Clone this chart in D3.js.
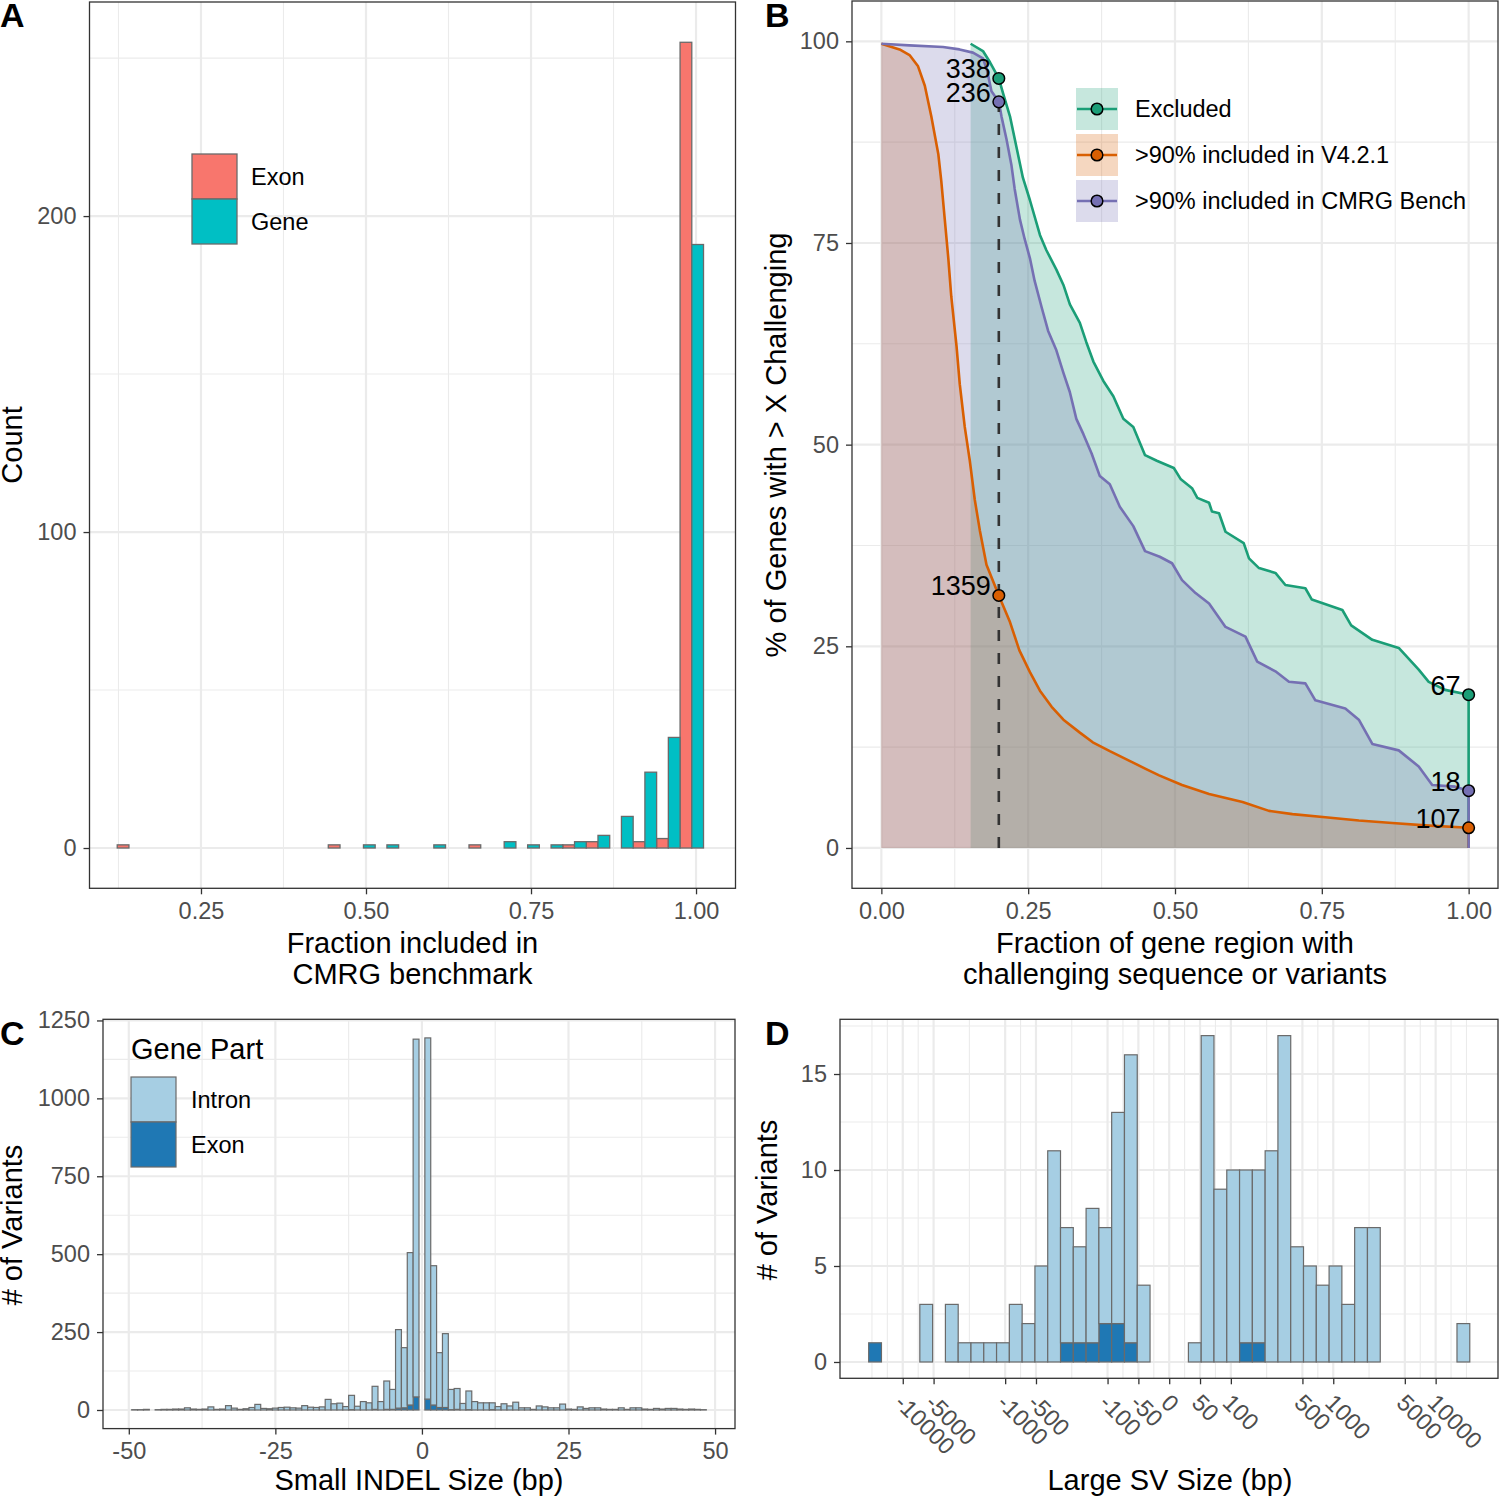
<!DOCTYPE html>
<html><head><meta charset="utf-8">
<script src="https://cdn.jsdelivr.net/npm/d3@7"></script>
<style>
body{margin:0;background:#fff}
svg{display:block}
text{font-family:"Liberation Sans",Arial,Helvetica,sans-serif}
</style>
</head><body>
<svg id="c" width="1500" height="1499"></svg>
<script>
// ---------------- Panel A data ----------------
const aBinStart = 0.1231, aBinWidth = 0.03553;
const aExon = [1,0,0,0,0,0,0,0,0,1,0,0,0,0,0,1,0,0,0,1,2,0,2,3,255];
const aGene = [0,0,0,0,0,0,0,0,0,0,1,1,0,1,0,0,2,1,1,2,4,10,24,35,191];
const aXTicks = [0.25,0.5,0.75,1.0];
const aXLabels = ["0.25","0.50","0.75","1.00"];
const aXMinor = [0.125,0.375,0.625,0.875];
const aYTicks = [0,100,200];
const aYMinor = [50,150,250];
const aLegend = ["Exon","Gene"];
const aColors = ["#F8766D","#00BFC4"];

// ---------------- Panel B data ----------------
const bNames = ["Excluded", ">90% included in V4.2.1", ">90% included in CMRG Bench"];
const bColors = ["#1b9e77","#d95f02","#7570b3"];
const bExcluded = [[0.152,99.7],[0.173,98.8],[0.185,97.4],[0.2,95.4],[0.207,93.6],[0.219,90.7],[0.23,86.9],[0.241,83.1],[0.253,80.3],[0.27,76],[0.281,74.1],[0.298,71.7],[0.31,69.8],[0.321,67.4],[0.338,65.1],[0.349,62.7],[0.361,60.3],[0.378,57.9],[0.395,56],[0.412,53.2],[0.429,52.2],[0.449,48.7],[0.469,48.0],[0.498,47.1],[0.51,45.7],[0.529,44.6],[0.538,43.4],[0.558,42.8],[0.563,41.7],[0.575,41.5],[0.586,39.2],[0.617,37.8],[0.626,35.9],[0.643,34.7],[0.671,34.1],[0.688,32.6],[0.722,32.2],[0.733,30.8],[0.785,29.5],[0.8,27.6],[0.836,25.8],[0.881,24.8],[0.915,22.1],[0.932,20.6],[0.96,19.6],[1.0,19.0],[1.0,0]];
const bV421 = [[0,99.7],[0.031,99],[0.048,98.3],[0.0625,96.9],[0.074,94.5],[0.085,90.7],[0.097,86],[0.102,82.7],[0.108,77.9],[0.114,73.1],[0.119,68.4],[0.128,62.2],[0.1335,57.5],[0.142,52.2],[0.1506,48],[0.159,43.2],[0.1676,39.4],[0.179,35.1],[0.2,31.3],[0.219,28],[0.235,24.5],[0.253,21.8],[0.27,19.5],[0.29,17.5],[0.31,15.9],[0.338,14.3],[0.36,13.1],[0.389,12.0],[0.42,10.9],[0.45,9.8],[0.473,9.0],[0.512,7.8],[0.558,6.7],[0.615,5.7],[0.66,4.6],[0.7,4.2],[0.756,3.8],[0.813,3.4],[0.87,3.1],[0.926,2.8],[1.0,2.5],[1.0,0]];
const bCMRG = [[0,99.7],[0.048,99.5],[0.105,99.3],[0.133,99.0],[0.156,98.6],[0.173,97.9],[0.18,96.4],[0.1875,93.8],[0.2,92.5],[0.2045,90.7],[0.213,87.9],[0.2216,84.6],[0.227,81.7],[0.236,77.9],[0.244,75.5],[0.253,73.1],[0.261,70.3],[0.273,67],[0.284,64.1],[0.298,61.7],[0.31,58.9],[0.321,56.5],[0.332,53.2],[0.344,51.3],[0.358,48.9],[0.372,46.1],[0.389,45.1],[0.406,42.3],[0.429,39.9],[0.449,36.8],[0.474,36.1],[0.495,35.3],[0.512,33.2],[0.535,31.6],[0.558,30.3],[0.586,27.4],[0.62,26.2],[0.64,23.1],[0.671,21.9],[0.694,20.6],[0.722,20.4],[0.739,18.3],[0.79,17.3],[0.813,15.9],[0.836,12.9],[0.881,12.1],[0.915,10.1],[0.938,7.8],[0.977,7.6],[1.0,7.1],[1.0,0]];
const bMarkX = [0.2,0.2,0.2,1.0,1.0,1.0];
const bMarkY = [95.4,92.5,31.3,19.0,7.1,2.5];
const bMarkSeries = [0,2,1,0,2,1];
const bMarkLabels = ["338","236","1359","67","18","107"];
const bCutoff = 0.2;
const bXTicks = [0,0.25,0.5,0.75,1.0];
const bXLabels = ["0.00","0.25","0.50","0.75","1.00"];
const bXMinor = [0.125,0.375,0.625,0.875];
const bYTicks = [0,25,50,75,100];
const bYMinor = [12.5,37.5,62.5,87.5];

// ---------------- Panel C data ----------------
const cSizes = [-49,-48,-47,-45,-44,-43,-42,-41,-40,-39,-38,-37,-36,-35,-34,-33,-32,-31,-30,-29,-28,-27,-26,-25,-24,-23,-22,-21,-20,-19,-18,-17,-16,-15,-14,-13,-12,-11,-10,-9,-8,-7,-6,-5,-4,-3,-2,-1,
  1,2,3,4,5,6,7,8,9,10,11,12,13,14,15,16,17,18,19,20,21,22,23,24,25,26,27,28,29,30,31,32,33,34,35,36,37,38,39,40,41,42,43,44,45,46,47,48];
const cIntron = [1,1,2, 1,2,2,3,3,7, 3,2,3,10,2,3,14,6,2,4, 8,18,5,4,6,8,9,7,6,14, 9,8,10,34,20,22,11,46,12,27, 23,74,27,91,64,252,193,489,1148,
  1159,447,176,237,65,67,21,60,27,23, 23,22,11,20,13,25,7,7,2,13, 10,7,7,19,3,2,10,5,7,7, 3,2,2,7,2,7,7,3,2,5, 3,5,5,3,2,3,2,1];
const cExon = [0,0,0, 0,0,0,0,0,0, 0,0,0,0,0,0,0,0,0,0, 0,0,0,0,0,0,0,0,0,0, 0,0,0,0,0,0,0,1,0,0, 0,2,0,2,2,6,7,16,42,
  35,16,8,8,1,2,0,1,0,0, 0,1,0,0,0,0,0,0,0,0, 0,0,0,0,0,0,0,0,0,0, 0,0,0,0,0,0,0,0,0,0, 0,0,0,0,0,0,0,0];
const cXTicks = [-50,-25,0,25,50];
const cXMinor = [-37.5,-12.5,12.5,37.5];
const cYTicks = [0,250,500,750,1000,1250];
const cYMinor = [125,375,625,875,1125];
const partNames = ["Intron","Exon"];
const partColors = ["#a6cee3","#1f78b4"];

// ---------------- Panel D data ----------------
const dBinStart = -2.935, dBinWidth = 0.1249; // in signed log10(|bp|/25) units
const dIntron = [0,0,0,0,3,0,3,1,1,1, 1,3,2,5,11,6,5,7,5,11, 15,4,0,0,0,1,17,9,10,9, 9,11,17,6,5,4,5,3,7,7, 0,0,0,0,0,0,2];
const dExon   = [1,0,0,0,0,0,0,0,0,0, 0,0,0,0,0,1,1,1,2,2, 1,0,0,0,0,0,0,0,0,1, 1,0,0,0,0,0,0,0,0,0, 0,0,0,0,0,0,0];
const dXTicks = [-10000,-5000,-1000,-500,-100,-50,0,50,100,500,1000,5000,10000];
const dYTicks = [0,5,10,15];
const dYMinor = [2.5,7.5,12.5,17.5];

// ---------------- helpers ----------------
const svg = d3.select("#c");
const GRID = "#ebebeb", BORDER = "#333333", TICKTXT = "#4d4d4d", BAROUT = "#6a6a6a";
const TICKFS = "23.5px", TITLEFS = "29px";

function frame(xs, ys, o) {
  const g = svg.append("g");
  const [L,R] = xs.range(), [B,T] = ys.range();
  g.append("rect").attr("x",L).attr("y",T).attr("width",R-L).attr("height",B-T).attr("fill","#fff");
  const vl = (vals, w) => g.selectAll(null).data(vals).join("line")
      .attr("x1",d=>xs(d)).attr("x2",d=>xs(d)).attr("y1",T).attr("y2",B)
      .attr("stroke",GRID).attr("stroke-width",w);
  const hl = (vals, w) => g.selectAll(null).data(vals).join("line")
      .attr("y1",d=>ys(d)).attr("y2",d=>ys(d)).attr("x1",L).attr("x2",R)
      .attr("stroke",GRID).attr("stroke-width",w);
  vl(o.xMinor||[],1.1); hl(o.yMinor||[],1.1);
  vl(o.xMajor,2.2); hl(o.yMajor,2.2);
  return g;
}
function border(xs, ys) {
  const [L,R] = xs.range(), [B,T] = ys.range();
  svg.append("rect").attr("x",L).attr("y",T).attr("width",R-L).attr("height",B-T)
    .attr("fill","none").attr("stroke",BORDER).attr("stroke-width",1.3);
}
function styleAxis(ax) {
  ax.select(".domain").remove();
  ax.selectAll(".tick line").attr("stroke",BORDER).attr("stroke-width",1.3);
  ax.selectAll(".tick text").attr("fill",TICKTXT).style("font-size",TICKFS)
    .style("font-family",'"Liberation Sans",Arial,sans-serif');
}
function yAxis(xs, ys, ticks, fmt) {
  const ax = svg.append("g").attr("transform",`translate(${xs.range()[0]},0)`)
    .call(d3.axisLeft(ys).tickValues(ticks).tickFormat(fmt).tickSize(6).tickPadding(7));
  styleAxis(ax); return ax;
}
function xAxis(xs, ys, ticks, fmt) {
  const ax = svg.append("g").attr("transform",`translate(0,${ys.range()[0]})`)
    .call(d3.axisBottom(xs).tickValues(ticks).tickFormat(fmt).tickSize(6).tickPadding(8));
  styleAxis(ax); return ax;
}
function text(x, y, s, o={}) {
  return svg.append("text").attr("x",x).attr("y",y).text(s)
    .attr("text-anchor",o.anchor||"start").attr("fill",o.fill||"#000")
    .style("font-size",o.size||TITLEFS).style("font-weight",o.weight||"normal")
    .attr("transform",o.rot?`rotate(${o.rot},${x},${y})`:null);
}

// ================= Panel A =================
const xA = d3.scaleLinear().domain([0.0811,1.0598]).range([89.5,735.5]);
const yA = d3.scaleLinear().domain([-12.75,267.75]).range([888.3,2]);
frame(xA, yA, {xMajor:aXTicks, xMinor:aXMinor, yMajor:aYTicks, yMinor:aYMinor});
const gA = svg.append("g");
[aExon, aGene].forEach((arr, s) => {
  gA.selectAll(null).data(arr).join("rect")
    .attr("x",(d,i)=>xA(aBinStart + i*aBinWidth + s*aBinWidth/2))
    .attr("width",(d,i)=>xA(aBinStart + (i+0.5)*aBinWidth) - xA(aBinStart + i*aBinWidth))
    .attr("y",d=>yA(d)).attr("height",d=>yA(0)-yA(d))
    .attr("fill",aColors[s]).attr("stroke",BAROUT).attr("stroke-width",1.3);
});
border(xA, yA);
yAxis(xA, yA, aYTicks, d=>String(d));
xAxis(xA, yA, aXTicks, (d,i)=>aXLabels[i]);
// legend
aLegend.forEach((n,i)=>{
  svg.append("rect").attr("x",192).attr("y",154+45*i).attr("width",45).attr("height",45)
    .attr("fill",aColors[i]).attr("stroke",BAROUT).attr("stroke-width",1.3);
  text(251, 177+45*i, n, {size:TICKFS}).attr("dy","0.35em");
});
text(22, 445, "Count", {anchor:"middle", rot:-90});
text(412.5, 953, "Fraction included in", {anchor:"middle"});
text(412.5, 984, "CMRG benchmark", {anchor:"middle"});

// ================= Panel B =================
const xB = d3.scaleLinear().domain([-0.05,1.05]).range([852,1498]);
const yB = d3.scaleLinear().domain([-5,105]).range([888.3,1]);
frame(xB, yB, {xMajor:bXTicks, xMinor:bXMinor, yMajor:bYTicks, yMinor:bYMinor});
const bSeries = [bExcluded, bV421, bCMRG];
const area = d3.area().x(d=>xB(d[0])).y0(yB(0)).y1(d=>yB(d[1]));
const line = d3.line().x(d=>xB(d[0])).y(d=>yB(d[1]));
const gB = svg.append("g");
bSeries.forEach((s,i)=>{
  gB.append("path").datum(s).attr("d",area).attr("fill",bColors[i]).attr("fill-opacity",0.25);
});
bSeries.forEach((s,i)=>{
  gB.append("path").datum(s).attr("d",line).attr("fill","none")
    .attr("stroke",bColors[i]).attr("stroke-width",2.6).attr("stroke-linejoin","round");
});
gB.append("line").attr("x1",xB(bCutoff)).attr("x2",xB(bCutoff))
  .attr("y1",yB(0)).attr("y2",yB(bMarkY[1]))
  .attr("stroke","#333").attr("stroke-width",2.6).attr("stroke-dasharray","11,12");
bMarkX.forEach((x,i)=>{
  gB.append("circle").attr("cx",xB(x)).attr("cy",yB(bMarkY[i])).attr("r",5.8)
    .attr("fill",bColors[bMarkSeries[i]]).attr("stroke","#000").attr("stroke-width",1.5);
  text(xB(x)-8, yB(bMarkY[i]), bMarkLabels[i], {anchor:"end", size:"27px"});
});
border(xB, yB);
yAxis(xB, yB, bYTicks, d=>String(d));
xAxis(xB, yB, bXTicks, (d,i)=>bXLabels[i]);
bNames.forEach((n,i)=>{
  const y0 = 88 + 46*i;
  svg.append("rect").attr("x",1076).attr("y",y0).attr("width",42).attr("height",42)
    .attr("fill",bColors[i]).attr("fill-opacity",0.25);
  svg.append("line").attr("x1",1077).attr("x2",1117).attr("y1",y0+21).attr("y2",y0+21)
    .attr("stroke",bColors[i]).attr("stroke-width",2.6);
  svg.append("circle").attr("cx",1097).attr("cy",y0+21).attr("r",5.8)
    .attr("fill",bColors[i]).attr("stroke","#000").attr("stroke-width",1.5);
  text(1135, y0+21, n, {size:TICKFS}).attr("dy","0.35em");
});
text(786, 445, "% of Genes with > X Challenging", {anchor:"middle", rot:-90});
text(1175, 953, "Fraction of gene region with", {anchor:"middle"});
text(1175, 984, "challenging sequence or variants", {anchor:"middle"});

// ================= Panel C =================
const xC = d3.scaleLinear().domain([-54.4,53.4]).range([103,735]);
const yC = d3.scaleLinear().domain([-59.7,1253.7]).range([1428.6,1019.3]);
frame(xC, yC, {xMajor:cXTicks, xMinor:cXMinor, yMajor:cYTicks, yMinor:cYMinor});
const gC = svg.append("g");
gC.selectAll(null).data(cSizes).join("rect")
  .attr("x",d=>xC(d-0.5)).attr("width",d=>xC(d+0.5)-xC(d-0.5))
  .attr("y",(d,i)=>yC(cExon[i])).attr("height",(d,i)=>yC(0)-yC(cExon[i]))
  .attr("fill",partColors[1]).attr("stroke",BAROUT).attr("stroke-width",1.2);
gC.selectAll(null).data(cSizes).join("rect")
  .attr("x",d=>xC(d-0.5)).attr("width",d=>xC(d+0.5)-xC(d-0.5))
  .attr("y",(d,i)=>yC(cExon[i]+cIntron[i])).attr("height",(d,i)=>yC(cExon[i])-yC(cExon[i]+cIntron[i]))
  .attr("fill",partColors[0]).attr("stroke",BAROUT).attr("stroke-width",1.2);
border(xC, yC);
yAxis(xC, yC, cYTicks, d=>String(d));
xAxis(xC, yC, cXTicks, d=>String(d));
text(131, 1059, "Gene Part", {});
partNames.forEach((n,i)=>{
  svg.append("rect").attr("x",131).attr("y",1077+45*i).attr("width",45).attr("height",45)
    .attr("fill",partColors[i]).attr("stroke",BAROUT).attr("stroke-width",1.2);
  text(191, 1100+45*i, n, {size:TICKFS}).attr("dy","0.35em");
});
text(22, 1225, "# of Variants", {anchor:"middle", rot:-90});
text(419, 1490, "Small INDEL Size (bp)", {anchor:"middle"});

// ================= Panel D =================
const sgnLog = v => v === 0 ? 0 : Math.sign(v)*Math.log10(Math.abs(v)/25);
const xD = d3.scaleLinear().domain([-3.215,3.211]).range([840,1498]);
const yD = d3.scaleLinear().domain([-0.85,17.85]).range([1378.3,1019.3]);
const dMajorT = dXTicks.map(sgnLog);
const dMinorT = [];
for (let i=0;i<dMajorT.length-1;i++) dMinorT.push((dMajorT[i]+dMajorT[i+1])/2);
const dStepL = dMajorT[1]-dMajorT[0], dStepR = dMajorT[dMajorT.length-1]-dMajorT[dMajorT.length-2];
dMinorT.push(dMajorT[0]-dStepL/2, dMajorT[0]-dStepL, dMajorT[dMajorT.length-1]+dStepR/2, dMajorT[dMajorT.length-1]+dStepR);
frame(xD, yD, {xMajor:dMajorT, xMinor:dMinorT.filter(t=>t>xD.domain()[0]&&t<xD.domain()[1]), yMajor:dYTicks, yMinor:dYMinor});
const gD = svg.append("g");
gD.selectAll(null).data(dExon).join("rect")
  .attr("x",(d,i)=>xD(dBinStart+i*dBinWidth)).attr("width",xD(dBinWidth)-xD(0))
  .attr("y",d=>yD(d)).attr("height",d=>yD(0)-yD(d))
  .attr("fill",partColors[1]).attr("stroke",BAROUT).attr("stroke-width",1.2);
gD.selectAll(null).data(dIntron).join("rect")
  .attr("x",(d,i)=>xD(dBinStart+i*dBinWidth)).attr("width",xD(dBinWidth)-xD(0))
  .attr("y",(d,i)=>yD(dExon[i]+d)).attr("height",(d,i)=>yD(dExon[i])-yD(dExon[i]+d))
  .attr("fill",partColors[0]).attr("stroke",BAROUT).attr("stroke-width",1.2);
border(xD, yD);
yAxis(xD, yD, dYTicks, d=>String(d));
const axD = xAxis(xD, yD, dMajorT, (d,i)=>String(dXTicks[i]));
axD.selectAll(".tick text").attr("y",null).attr("dy",null)
  .attr("text-anchor","start").attr("transform","translate(-10,26) rotate(45)");
text(777, 1200, "# of Variants", {anchor:"middle", rot:-90});
text(1170, 1490, "Large SV Size (bp)", {anchor:"middle"});

// ================= panel letters =================
[["A",0,27],["B",765,27],["C",0,1045],["D",765,1045]].forEach(([s,x,y])=>{
  text(x, y, s, {size:"34px", weight:"bold"});
});
</script>
</body></html>
